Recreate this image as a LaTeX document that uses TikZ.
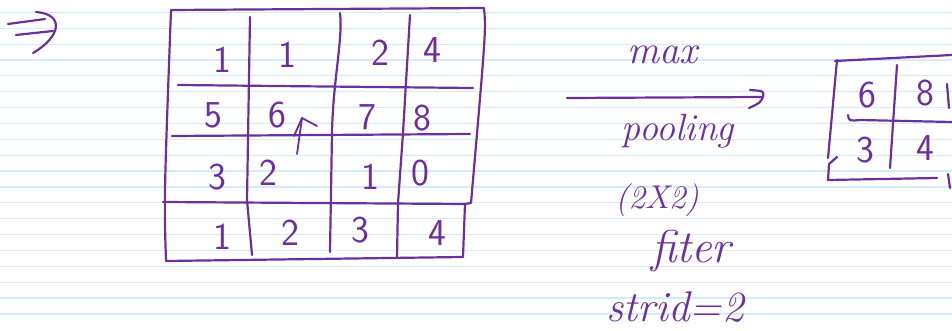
\documentclass[tikz,border=0pt]{standalone}
\usepackage{fontspec}
\usetikzlibrary{calc}
\definecolor{ink}{RGB}{108,48,158}
\definecolor{rule}{RGB}{212,236,250}
\begin{document}
\begin{tikzpicture}[x=1pt,y=-1pt,
  pen/.style={draw=ink,line width=2.2pt,line cap=round,line join=round},
  dig/.style={text=ink,font=\sffamily\fontsize{38}{40}\selectfont,inner sep=0pt},
  word/.style={text=ink,font=\itshape\fontsize{#1}{#1}\selectfont,inner sep=0pt},
  word/.default=34]
\useasboundingbox (0,0) rectangle (952,331);
\fill[white] (0,0) rectangle (952,331);
% ruled paper
\foreach \k in {0,...,19}{
  \draw[rule,line width=1.2pt] (0,{12.4+15.87*\k}) -- (952,{12.4+15.87*\k});
}
% implies sign
\coordinate (i1a) at (8,24); \coordinate (i1b) at (45,19);
\coordinate (i2a) at (16,35); \coordinate (i2b) at (53,31);
\coordinate (ic1) at (36,12); \coordinate (ic2) at (33,53);
\draw[pen] (i1a) -- (i1b);
\draw[pen] (i2a) -- (i2b);
\draw[pen] (ic1) .. controls (64,14) and (62,36) .. (ic2);
% big grid
\coordinate (gtl) at (171,10);
\coordinate (gtr) at (484,8);
\coordinate (gbl) at (166,261);
\coordinate (gbr) at (463,257);
\draw[pen] (gtl) -- (gtr) .. controls (486,30) .. (471,203) -- (465,204) -- (463,257) -- (gbl) .. controls (164,200) .. (gtl);
\draw[pen] (178,85) -- (473,88);
\draw[pen] (172,136) -- (470,134);
\draw[pen] (163,202) -- (465,204);
\draw[pen] (250,17) -- (247,200) -- (252,255);
\draw[pen] (340,13) .. controls (343,40) and (333,80) .. (332,133) -- (330,252);
\draw[pen] (410,15) -- (403,133) -- (398,203) -- (397,257);
% numbers
\node[dig] (a11) at (222,60) {1};
\node[dig] (a12) at (287,55) {1};
\node[dig] (a13) at (380,53) {2};
\node[dig] (a14) at (432,50) {4};
\node[dig] (a21) at (213,115) {5};
\node[dig] (a22) at (277,115) {6};
\node[dig] (a23) at (367,117) {7};
\node[dig] (a24) at (422,118) {8};
\node[dig] (a31) at (217,177) {3};
\node[dig] (a32) at (268,173) {2};
\node[dig] (a33) at (370,177) {1};
\node[dig] (a34) at (420,173) {0};
\node[dig] (a41) at (222,237) {1};
\node[dig] (a42) at (290,233) {2};
\node[dig] (a43) at (360,230) {3};
\node[dig] (a44) at (437,233) {4};
% small up arrow
\coordinate (ua) at (297,154); \coordinate (ub) at (302,118);
\draw[pen,line width=1.8pt] (ua) -- (ub);
\draw[pen,line width=1.8pt] (294,136) -- (ub) -- (317,126);
% pooling arrow
\coordinate (pa) at (567,98); \coordinate (pb) at (763,97);
\draw[pen] (pa) -- (pb);
\draw[pen] (750,90) .. controls (764,91) .. (pb) .. controls (760,103) .. (749,108);
\node[word=40] (tmax) at (662,55) {max};
\node[word=38,anchor=base] (tpool) at (678,141) {pooling};
\node[word=33] (tfil) at (657,200) {(2X2)};
\node[word=46,anchor=base] (tfit) at (691,262) {fiter};
\node[word=43,anchor=base] (tstr) at (675,321) {strid=2};
% output matrix
\coordinate (otl) at (835,61);
\coordinate (otr) at (952,55);
\draw[pen] (otl) -- (otr);
\draw[pen] (837,60) -- (828,158);
\draw[pen] (837,157) -- (829,164) -- (828,180) -- (937,178);
\draw[pen] (897,65) -- (890,168);
\draw[pen] (848,115) .. controls (849,121) .. (860,120) -- (952,122);
\draw[pen] (947,84) -- (949,108);
\draw[pen] (948,174) -- (950,188);
\node[dig] (b11) at (867,95) {6};
\node[dig] (b12) at (925,93) {8};
\node[dig] (b21) at (865,150) {3};
\node[dig] (b22) at (925,148) {4};
\end{tikzpicture}
\end{document}
